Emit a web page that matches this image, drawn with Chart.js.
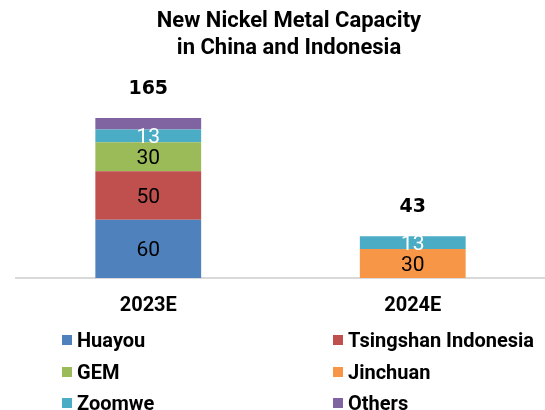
<!DOCTYPE html>
<html>
<head>
<meta charset="utf-8">
<script src="https://cdn.jsdelivr.net/npm/chart.js@4/dist/chart.umd.min.js"></script>
<style>
  body { margin: 0; background: #fff; }
  #wrap { position: relative; width: 545px; height: 410px; }
  #legend { position: absolute; left: 0; top: 0; width: 545px; height: 410px; pointer-events: none;
    font-family: Roboto, "Liberation Sans", Arial, sans-serif; font-weight: bold; font-size: 20px; color: #000; }
  .item { position: absolute; display: flex; align-items: center; white-space: nowrap; height: 22px; line-height: 22px; }
  .sw { width: 10px; height: 10px; margin-right: 5px; }
</style>
</head>
<body>
<div id="wrap">
  <canvas id="myChart" width="545" height="410"></canvas>
  <div id="legend"></div>
</div>
<script>
const ctx = document.getElementById('myChart')
const legendBox = document.getElementById('legend')

const titleLines = ['New Nickel Metal Capacity', 'in China and Indonesia']
const categories = ['2023E', '2024E']
const seriesNames = ['Huayou', 'Tsingshan Indonesia', 'GEM', 'Jinchuan', 'Zoomwe', 'Others']
const huayou = [60, 0]
const tsingshan = [50, 0]
const gem = [30, 0]
const jinchuan = [0, 30]
const zoomwe = [13, 13]
const others = [12, 0]
const colors = ['#4F81BD', '#C0504D', '#9BBB59', '#F79646', '#4BACC6', '#8064A2']
const labelColors = ['#000', '#000', '#000', '#000', '#fff', null]

const seriesData = [huayou, tsingshan, gem, jinchuan, zoomwe, others]
const fontFamily = 'Roboto, "Liberation Sans", Arial, sans-serif'

// title, values inside bars, totals on top
const labelPlugin = {
    id: 'labels',
    afterDraw(chart) {
        const c = chart.ctx
        c.save()
        c.fillStyle = '#000'
        c.textAlign = 'center'
        c.textBaseline = 'alphabetic'
        c.font = 'bold 22px ' + fontFamily
        c.fillText(titleLines[0], 289, 27)
        c.fillText(titleLines[1], 289, 54)

        c.textBaseline = 'middle'
        chart.data.datasets.forEach((ds, i) => {
            if (!labelColors[i]) return
            const meta = chart.getDatasetMeta(i)
            meta.data.forEach((bar, j) => {
                const v = ds.data[j]
                if (!v) return
                c.fillStyle = labelColors[i]
                c.font = '21px ' + fontFamily
                c.fillText(v, bar.x, (bar.y + bar.base) / 2 + 2)
            })
        })
        const last = chart.getDatasetMeta(chart.data.datasets.length - 1)
        const yScale = chart.scales.y
        categories.forEach((cat, j) => {
            let total = 0
            seriesData.forEach(s => total += s[j])
            c.fillStyle = '#000'
            c.font = 'bold 19px "DejaVu Sans", sans-serif'
            c.fillText(total, last.data[j].x, yScale.getPixelForValue(total) - 29)
        })
        c.restore()
    }
}

new Chart(ctx, {
    type: 'bar',
    data: {
        labels: categories,
        datasets: seriesNames.map((name, i) => ({
            label: name,
            data: seriesData[i],
            backgroundColor: colors[i],
            borderWidth: 0,
            barPercentage: 0.4,
            categoryPercentage: 1
        }))
    },
    options: {
        responsive: false,
        animation: false,
        layout: { padding: { left: 16, right: 0, top: 84, bottom: 0 } },
        plugins: {
            legend: { display: false },
            tooltip: { enabled: false },
            title: { display: false }
        },
        scales: {
            x: {
                stacked: true,
                grid: { display: false, drawTicks: false },
                border: { display: true, color: '#d9d9d9', width: 2 },
                ticks: { color: '#000', padding: 16, font: { family: fontFamily, size: 20, weight: 'bold' } },
                afterFit(scale) { scale.height = 132 }
            },
            y: {
                stacked: true,
                display: false,
                min: 0,
                max: 200
            }
        }
    },
    plugins: [labelPlugin]
})

// legend in two columns
const legendX = [62, 333]
const legendY = [340, 371.5, 403]
seriesNames.forEach((name, i) => {
    const el = document.createElement('div')
    el.className = 'item'
    el.style.left = legendX[i % 2] + 'px'
    el.style.top = (legendY[Math.floor(i / 2)] - 11) + 'px'
    el.innerHTML = '<span class="sw" style="background:' + colors[i] + '"></span>' + name
    legendBox.appendChild(el)
})
</script>
</body>
</html>
